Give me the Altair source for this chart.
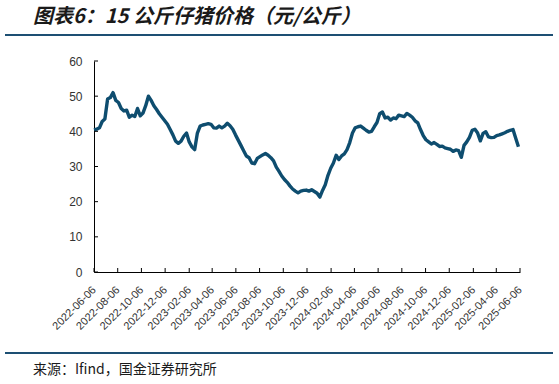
import altair as alt
import pandas as pd

title_text = "图表6：15 公斤仔猪价格（元/公斤）"
source_text = "来源：Ifind，国金证券研究所"

start_date = "2022-06-06"
end_date = "2025-06-06"
tick_dates = [
    "2022-06-06", "2022-08-06", "2022-10-06", "2022-12-06", "2023-02-06",
    "2023-04-06", "2023-06-06", "2023-08-06", "2023-10-06", "2023-12-06",
    "2024-02-06", "2024-04-06", "2024-06-06", "2024-08-06", "2024-10-06",
    "2024-12-06", "2025-02-06", "2025-04-06", "2025-06-06",
]
y_ticks = [0, 10, 20, 30, 40, 50, 60]

# weekly price readings (yuan/kg)
price = [
    40.4, 40.6, 41.0, 42.8, 43.5, 49.2, 49.6, 51.0, 48.8, 48.2,
    46.5, 45.8, 46.0, 44.0, 44.6, 44.2, 46.5, 44.4, 45.2, 47.3,
    50.0, 48.8, 47.3, 46.2, 45.0, 44.0, 43.0, 42.0, 40.5, 39.0,
    37.2, 36.6, 37.2, 38.6, 39.5, 37.0, 35.6, 34.8, 39.5, 41.5,
    41.8, 42.0, 42.2, 42.0, 41.0, 40.9, 41.5, 41.0, 41.5, 42.3,
    41.6, 40.6, 39.0, 37.5, 36.0, 34.5, 33.0, 32.5, 31.0, 30.8,
    32.3, 32.8, 33.3, 33.7, 33.2, 32.5, 31.6, 29.8, 28.6, 27.3,
    26.3, 25.5, 24.5, 23.6, 23.0, 22.5, 23.0, 23.2, 23.3, 23.0,
    23.4, 22.9, 22.4, 21.3, 23.2, 24.8, 27.5, 29.5, 31.0, 33.2,
    32.0, 33.0, 33.6, 34.8, 36.8, 39.5, 41.0, 41.3, 41.5, 40.9,
    40.3, 39.8, 40.0, 41.3, 42.5, 45.0, 45.5, 43.8, 44.0, 43.2,
    43.8, 43.6, 44.6, 44.4, 44.2, 45.1, 44.6, 44.0, 43.0, 42.4,
    40.5, 38.8, 37.6, 37.0, 36.4, 36.8, 36.3, 35.7, 35.8, 35.3,
    35.1, 34.9, 34.3, 34.7, 34.5, 32.6, 36.0, 37.0, 38.3, 40.3,
    40.6, 39.5, 37.3, 39.4, 39.9, 38.4, 38.2, 38.3, 38.8, 39.0,
    39.3, 39.6, 40.0, 40.3, 40.5, 38.0, 35.6,
]

dates = pd.date_range(start_date, periods=len(price), freq="7D").strftime("%Y-%m-%d")
df = pd.DataFrame({"date": list(dates), "price": price})

W, H = 426, 211
LINE = "#0e4d6f"
RULE = "#1d4f73"


def ts(s):
    return int(pd.Timestamp(s, tz="UTC").value // 10**6)


xscale = alt.Scale(type="utc", domain=[ts(start_date), ts(end_date)], nice=False)
yscale = alt.Scale(domain=[0, 60], nice=False)

xaxis = alt.Axis(
    title=None,
    values=[ts(s) for s in tick_dates],
    labelExpr="utcFormat(datum.value, '%Y-%m-%d')",
    labelAngle=-45,
    labelAlign="right",
    labelBaseline="middle",
    labelPadding=16,
    labelFont="Liberation Sans",
    labelFontSize=11,
    labelColor="#333333",
    labelOverlap=False,
    labelFlush=False,
    ticks=False,
    domainColor="#000000",
    domainWidth=1,
    grid=False,
)
yaxis = alt.Axis(
    title=None,
    values=y_ticks,
    labelFont="Liberation Sans",
    labelFontSize=12,
    labelColor="#333333",
    labelPadding=12,
    labelOverlap=False,
    labelFlush=False,
    ticks=False,
    domainColor="#000000",
    domainWidth=1,
    grid=False,
)

line = alt.Chart(df).mark_line(color=LINE, strokeWidth=3.4, strokeJoin="round").encode(
    x=alt.X("date:T", scale=xscale, axis=xaxis),
    y=alt.Y("price:Q", scale=yscale, axis=yaxis),
)

xt = alt.Chart(pd.DataFrame({"date": tick_dates})).mark_rule(color="#000000", strokeWidth=1).encode(
    x=alt.X("date:T", scale=xscale, axis=xaxis),
    y=alt.value(H),
    y2=alt.value(H - 4),
)

yt = alt.Chart(pd.DataFrame({"price": y_ticks})).mark_rule(color="#000000", strokeWidth=1).encode(
    y=alt.Y("price:Q", scale=yscale, axis=yaxis),
    x=alt.value(0),
    x2=alt.value(4),
)

title = alt.Chart(pd.DataFrame({"t": [title_text]})).mark_text(
    font="Noto Sans CJK SC", fontSize=20, fontWeight="bold", fontStyle="italic",
    align="left", baseline="middle", color="#1a1a1a",
).encode(text="t:N", x=alt.value(-61), y=alt.value(-44))

top_rule = alt.Chart(pd.DataFrame({"a": [0]})).mark_rule(color=RULE, strokeWidth=2).encode(
    x=alt.value(-89), x2=alt.value(459), y=alt.value(-26)
)
bottom_rule = alt.Chart(pd.DataFrame({"a": [0]})).mark_rule(color=RULE, strokeWidth=2).encode(
    x=alt.value(-89), x2=alt.value(459), y=alt.value(292)
)

source = alt.Chart(pd.DataFrame({"t": [source_text]})).mark_text(
    font="Noto Sans CJK SC", fontSize=14, align="left", baseline="middle", color="#1a1a1a",
).encode(text="t:N", x=alt.value(-61), y=alt.value(309))

chart = alt.layer(line, xt, yt, title, top_rule, bottom_rule, source).properties(
    width=W,
    height=H,
    autosize=alt.AutoSizeParams(type="none"),
    padding={"left": 94, "top": 61, "right": 39, "bottom": 112},
    background="white",
).configure_view(stroke=None)

chart.save("out.html", embed_options={"renderer": "svg", "actions": False})
